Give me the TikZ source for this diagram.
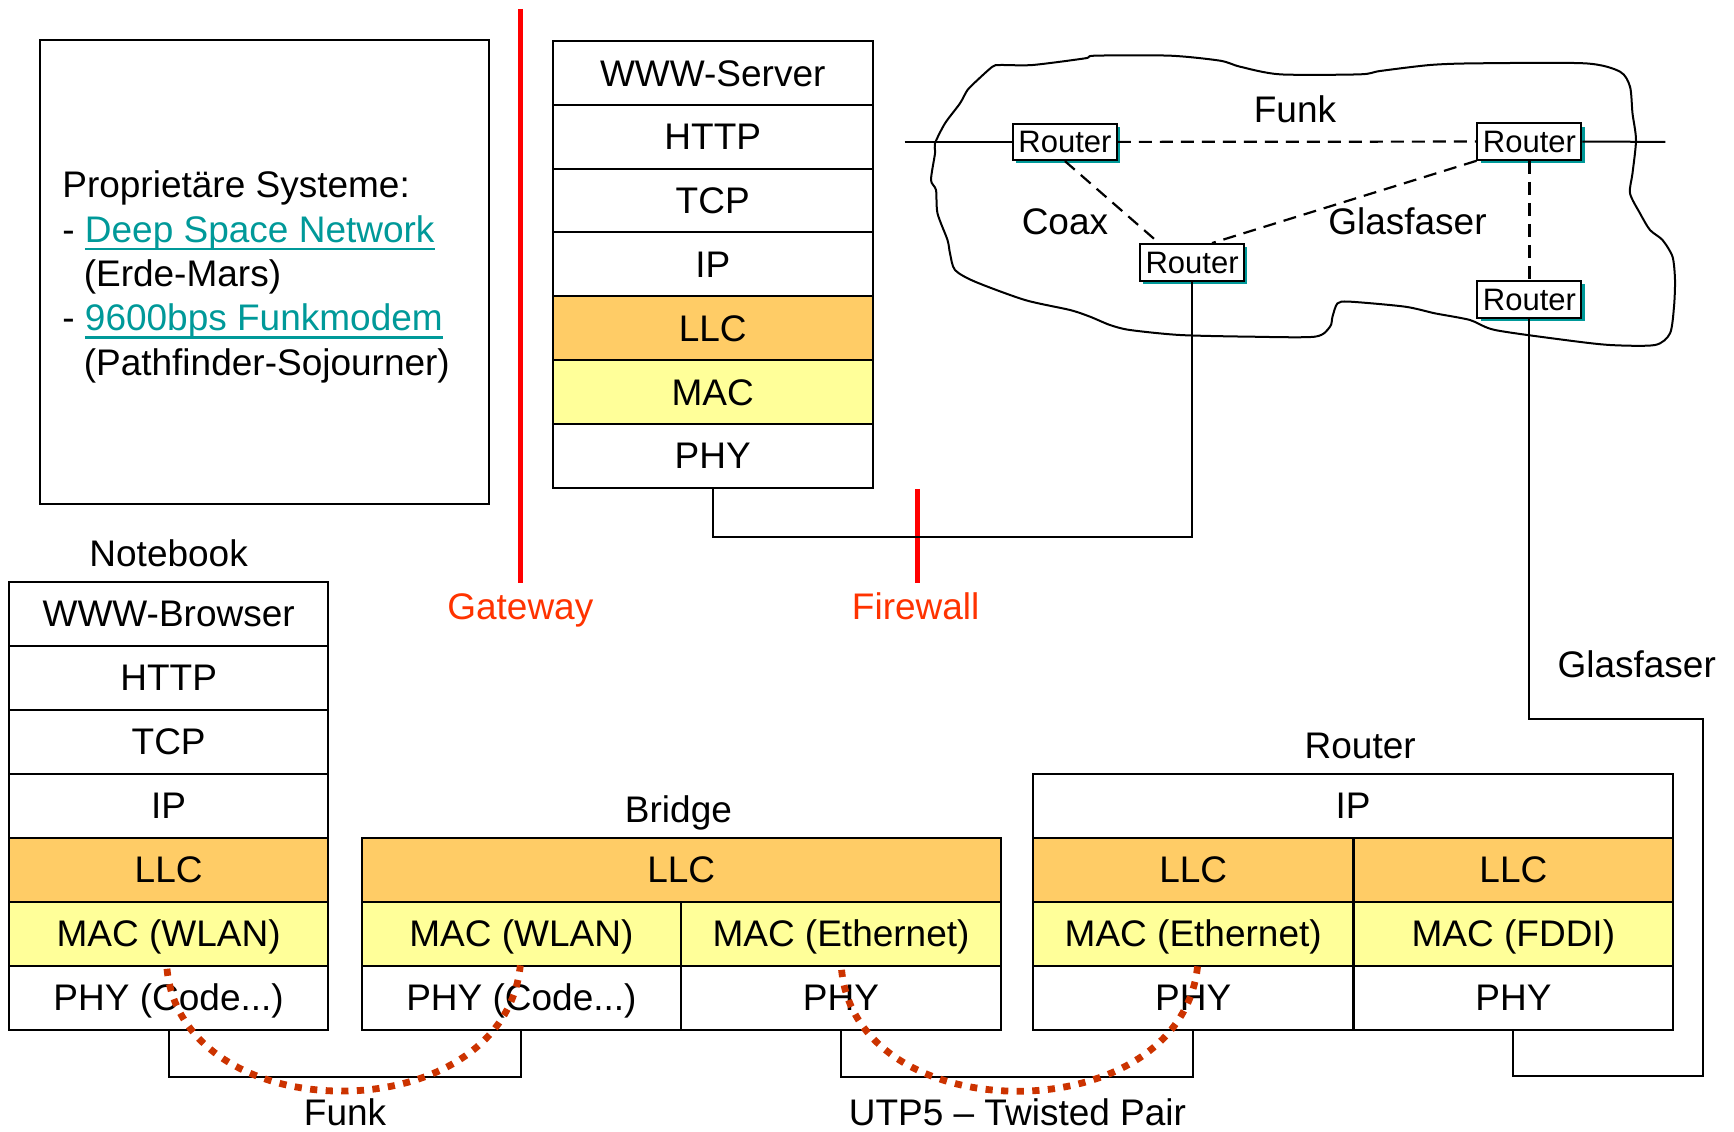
\documentclass[tikz,border=0pt]{standalone}
\usepackage{fontspec}
\setmainfont{Liberation Sans}
\newcommand\myul[1]{\setbox0\hbox{#1}\rlap{\vrule height -2.7pt depth 4pt width \wd0}\box0}
\usetikzlibrary{shadows}
\definecolor{llc}{HTML}{FFCC66}
\definecolor{mac}{HTML}{FFFF99}
\definecolor{gwred}{HTML}{FF0000}
\definecolor{lblred}{HTML}{FF3300}
\definecolor{linkc}{HTML}{009999}
\definecolor{dotc}{HTML}{CC3300}
\def\U{0.55294pt}
\begin{document}
\begin{tikzpicture}[x=\U, y=-\U,
  txt/.style={font=\fontsize{18.5}{22}\selectfont, inner sep=0pt, text height=13.25pt, text depth=0pt},
  cell/.style={txt, draw, line width=1pt, minimum height=57.8*\U, minimum width=289*\U},
  rtr/.style={draw, line width=1pt, fill=white, font=\fontsize{15.5}{18}\selectfont, inner sep=0pt,
    text height=11.1pt, text depth=0pt, minimum width=94*\U, minimum height=33*\U,
    drop shadow={shadow xshift=1.6pt, shadow yshift=-1.6pt, fill=linkc, opacity=1}},
  wire/.style={line width=1pt},
  dashwire/.style={line width=1.1pt, dash pattern=on 6.5pt off 4pt},
  redline/.style={gwred, line width=2.5pt},
  redlabel/.style={txt, text=lblred},
  dotline/.style={dotc, line width=3.4pt, dash pattern=on 3.6pt off 4.2pt}]
\useasboundingbox (0,0) rectangle (1568,1023);

% info box
\draw[line width=1pt] (36.5,36.5) rectangle (442.4,455.8);
\node[txt, anchor=west] (i1) at (56,166.4) {Proprietäre Systeme:};
\node[txt, anchor=west] (i2) at (56,207) {- {\color{linkc}\myul{Deep Space Network}}};
\node[txt, anchor=west] (i3) at (75.4,247.2) {(Erde-Mars)};
\node[txt, anchor=west] (i4) at (56,287) {- {\color{linkc}\myul{9600bps Funkmodem}}};
\node[txt, anchor=west] (i5) at (75.4,327.6) {(Pathfinder-Sojourner)};

% red lines
\draw[redline] (470.8,8) -- (470.8,527);
\draw[redline] (829.5,442) -- (829.5,527);
\node[redlabel] (gw) at (470.5,548) {Gateway};
\node[redlabel] (fw) at (828,548) {Firewall};

% server stack
\node[cell] (sw) at (644.5,65.9) {WWW-Server};
\node[cell] (shttp) at (644.5,123.6) {HTTP};
\node[cell] (stcp) at (644.5,181.3) {TCP};
\node[cell] (sip) at (644.5,239) {IP};
\node[cell, fill=llc] (sllc) at (644.5,296.7) {LLC};
\node[cell, fill=mac] (smac) at (644.5,354.4) {MAC};
\node[cell] (sphy) at (644.5,412.1) {PHY};

% notebook
\node[txt] (nbl) at (152.5,500) {Notebook};
\node[cell] (nw) at (152.5,554.9) {WWW-Browser};
\node[cell] (nhttp) at (152.5,612.8) {HTTP};
\node[cell] (ntcp) at (152.5,670.6) {TCP};
\node[cell] (nip) at (152.5,728.5) {IP};
\node[cell, fill=llc] (nllc) at (152.5,786.4) {LLC};
\node[cell, fill=mac] (nmac) at (152.5,844.2) {MAC (WLAN)};
\node[cell] (nphy) at (152.5,902.1) {PHY (Code...)};

% bridge
\node[txt] (brl) at (613.5,732) {Bridge};
\node[cell, fill=llc, minimum width=578*\U] (bllc) at (616,786.4) {LLC};
\node[cell, fill=mac] (bmac1) at (471.5,844.2) {MAC (WLAN)};
\node[cell, fill=mac] (bmac2) at (760.5,844.2) {MAC (Ethernet)};
\node[cell] (bphy1) at (471.5,902.1) {PHY (Code...)};
\node[cell] (bphy2) at (760.5,902.1) {PHY};

% router stack
\node[txt] (rtl) at (1230,674) {Router};
\node[cell, minimum width=579*\U] (rip) at (1223.5,728.5) {IP};
\node[cell, fill=llc] (rllc1) at (1079,786.4) {LLC};
\node[cell, fill=llc] (rllc2) at (1368.5,786.4) {LLC};
\node[cell, fill=mac] (rmac1) at (1079,844.2) {MAC (Ethernet)};
\node[cell, fill=mac] (rmac2) at (1368.5,844.2) {MAC (FDDI)};
\node[cell] (rphy1) at (1079,902.1) {PHY};
\node[cell] (rphy2) at (1368.5,902.1) {PHY};

% cloud
\begin{scope}[shift={(813.84,36.17)}, xscale=0.45214, yscale=0.30142]
\draw[line width=1pt] plot[smooth cycle, tension=0.45] coordinates {
 (200,75) (265,75) (370,55) (390,47) (540,47) (640,62) (680,80) (760,103) (920,103) (960,93)
 (1060,75) (1150,70) (1370,70) (1440,95) (1460,140) (1465,220) (1472,300) (1465,400) (1460,460)
 (1480,520) (1500,570) (1525,600) (1545,650) (1550,720) (1548,800) (1540,880) (1510,915)
 (1420,915) (1330,900) (1190,870) (1140,840) (1070,820) (1010,800) (900,785) (875,790)
 (865,830) (860,860) (830,890) (700,890) (560,885) (460,870) (420,855) (380,830) (340,810)
 (250,780) (150,725) (110,690) (100,640) (95,600) (75,520) (72,450) (62,420) (70,340)
 (70,310) (90,250) (120,190) (135,150) (155,120) (185,80)};
\end{scope}

% cloud routers
\coordinate (fl) at (818,128.3);
\coordinate (fr) at (1506,128.3);
\node[rtr] (r1) at (963,128.3) {Router};
\node[rtr] (r2) at (1383,128) {Router};
\node[rtr] (r3) at (1078,237.2) {Router};
\node[rtr] (r4) at (1383,270.8) {Router};
\node[txt] (cfunk) at (1171,99) {Funk};
\node[txt] (ccoax) at (963,200.5) {Coax};
\node[txt] (cglas) at (1272.7,200.5) {Glasfaser};

\draw[wire] (fl) -- (r1.west);
\draw[wire] (r2.east) -- (fr);
\draw[dashwire] (r1.east) -- (r2.west);
\draw[dashwire] (r1.south) -- ([xshift=-30*\U]r3.north);
\draw[dashwire] (r2.south west) -- ([xshift=18*\U]r3.north);
\draw[dashwire] (r2.south) -- (r4.north);

% wires
\coordinate (g1) at (1540,650);
\coordinate (g2) at (1540,973);
\draw[wire] (sphy.south) -- ++(0,44) -| (r3.south);
\draw[wire] (r4.south) |- (g1) -- (g2) -| (rphy2.south);
\draw[wire] (nphy.south) -- ++(0,42) -| (bphy1.south);
\draw[wire] (bphy2.south) -- ++(0,42) -| (rphy1.south);
\node[txt] (glas2) at (1480,601) {Glasfaser};

% dotted links
\coordinate (d1a) at (151,876);
\coordinate (d1b) at (470.5,873);
\coordinate (d2a) at (761,877);
\coordinate (d2b) at (1083,873);
\draw[dotline] (d1a) .. controls (165,1024) and (455,1024) .. (d1b);
\draw[dotline] (d2a) .. controls (775,1024) and (1068,1024) .. (d2b);
\node[txt] (lfunk) at (312,1005.5) {Funk};
\node[txt] (lutp) at (920,1005.5) {UTP5 – Twisted Pair};
\end{tikzpicture}
\end{document}
